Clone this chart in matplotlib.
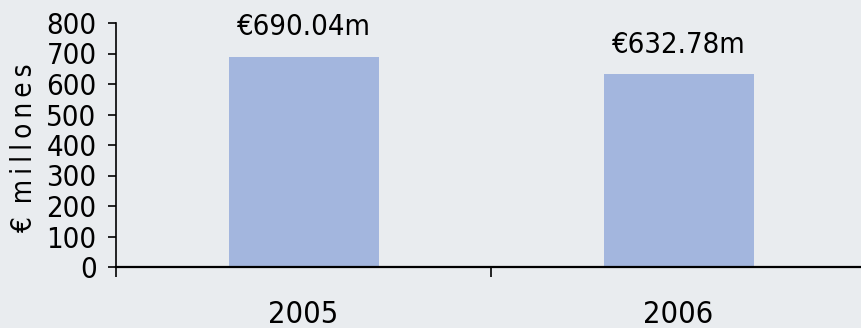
import numpy as np
import matplotlib.pyplot as plt

years = ['2005', '2006']
values = [690.04, 632.78]
labels = ['€690.04m', '€632.78m']

bg = '#e9ecef'
bar_color = '#a3b6de'
plt.rcParams['font.family'] = ['DejaVu Sans']
plt.rcParams['font.stretch'] = 'condensed'

fig = plt.figure(figsize=(8.61, 3.28), dpi=100, facecolor=bg)
ax = fig.add_axes([116/861, 1 - 267/328, 750/861, 244/328])
ax.set_facecolor(bg)

x = np.arange(len(years)) + 0.5
ax.bar(x, values, width=0.4, color=bar_color, zorder=2)
for xi, v, lab in zip(x, values, labels):
    ax.text(xi, v + 50, lab, ha='center', va='bottom', fontsize=21)

ax.set_xlim(0, 2)
ax.set_ylim(0, 800)
ax.set_yticks(np.arange(0, 801, 100))
ax.tick_params(axis='y', labelsize=21, length=6, width=1.2, pad=8)

ax.set_xticks(x)
ax.set_xticklabels(years)
ax.tick_params(axis='x', which='major', length=0, labelsize=22, pad=24)
ax.set_xticks([0, 1, 2], minor=True)
ax.tick_params(axis='x', which='minor', length=7, width=1.2, direction='out')

for s in ['top', 'right']:
    ax.spines[s].set_visible(False)
ax.spines['bottom'].set_linewidth(1.6)
ax.spines['left'].set_linewidth(1.2)

ax.set_ylabel('€\u2009 m\u2009i\u2009l\u2009l\u2009o\u2009n\u2009e\u2009s', fontsize=20)
ax.yaxis.label.set_va('center')
ax.yaxis.set_label_coords((24 - 116) / 750, (267 - 148) / 244)

fig.savefig('out.png', dpi=100, facecolor=bg)
